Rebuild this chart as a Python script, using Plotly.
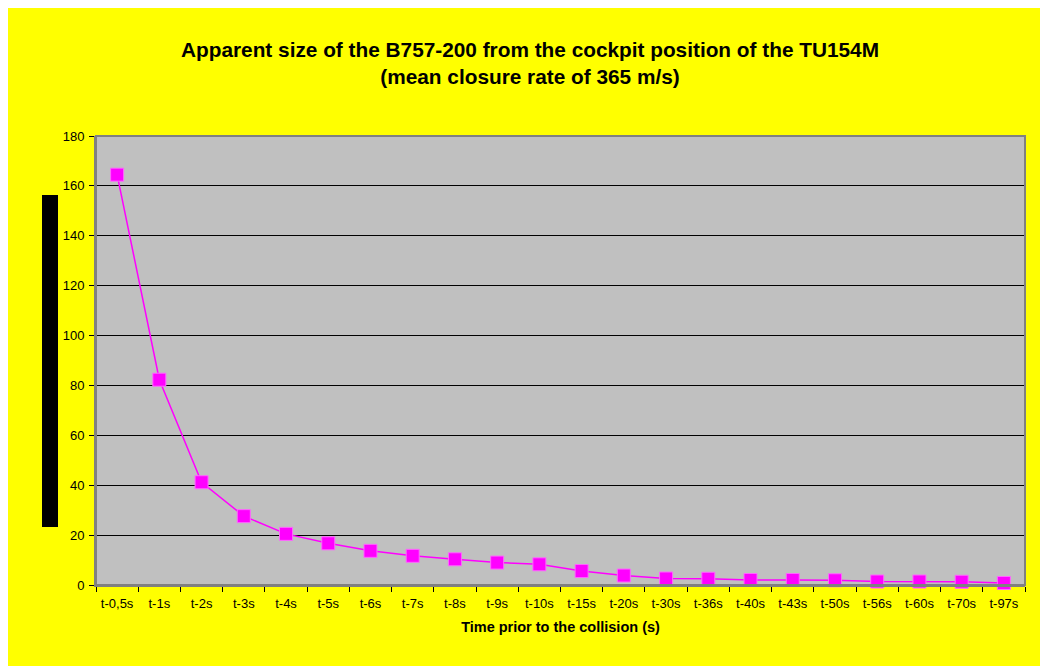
import plotly.graph_objects as go

categories = ["t-0,5s", "t-1s", "t-2s", "t-3s", "t-4s", "t-5s", "t-6s", "t-7s", "t-8s",
              "t-9s", "t-10s", "t-15s", "t-20s", "t-30s", "t-36s", "t-40s", "t-43s",
              "t-50s", "t-56s", "t-60s", "t-70s", "t-97s"]
apparent_size = [164.5, 82.3, 41.2, 27.6, 20.5, 16.7, 13.7, 11.7, 10.3, 9.0, 8.3,
                 5.6, 3.8, 2.6, 2.5, 2.0, 2.0, 1.9, 1.4, 1.4, 1.3, 0.8]
y_ticks = [0, 20, 40, 60, 80, 100, 120, 140, 160, 180]

# page body has an 8px margin; work in screen coordinates and shift
OFF = 8
W, H = 1040, 658
L, R, T, B = 96 - OFF, 1025 - OFF, 136 - OFF, 585 - OFF
pw, ph = R - L, B - T

def px(x):
    return (x - OFF - L) / pw

def py(y):
    return (B - (y - OFF)) / ph

fig = go.Figure()
fig.add_trace(go.Scatter(
    x=categories, y=apparent_size, mode="lines+markers",
    line=dict(color="#FF00FF", width=1.5),
    marker=dict(symbol="square", size=13, color="#FF00FF",
                line=dict(color="#FF66FF", width=1)),
    showlegend=False, cliponaxis=False,
))

font = "Liberation Sans, Arial, sans-serif"
fig.update_layout(
    width=W, height=H,
    margin=dict(l=L, r=W - R, t=T, b=H - B, pad=0),
    paper_bgcolor="#FFFF00",
    plot_bgcolor="#C0C0C0",
    font=dict(family=font, color="black", size=13),
    title=dict(
        text="<b>Apparent size of the B757-200 from the cockpit position of the TU154M</b><br><b>(mean closure rate of 365 m/s)</b>",
        x=(530 - OFF) / W, xanchor="center", y=1 - (57 - OFF) / H, yanchor="top",
        font=dict(size=20.8, family=font, color="black"),
    ),
    xaxis=dict(
        type="category", tickson="boundaries", ticks="outside", ticklen=5,
        tickcolor="black", showgrid=False, showline=True, linecolor="#808080",
        linewidth=2, mirror=False, tickfont=dict(size=13), ticklabelstandoff=5,
        tickangle=0,
        title=dict(text="<b>Time prior to the collision (s)</b>",
                   font=dict(size=14.5), standoff=12),
        range=[-0.5, len(categories) - 0.5],
    ),
    yaxis=dict(
        range=[0, 180], tickvals=y_ticks, ticks="outside", ticklen=5,
        tickcolor="black", showgrid=True, gridcolor="black", gridwidth=1,
        showline=True, linecolor="#808080", linewidth=2, zeroline=False,
        tickfont=dict(size=13), ticklabelstandoff=2,
    ),
    shapes=[
        # plot area border (right / top)
        dict(type="rect", xref="paper", yref="paper", x0=0, x1=1, y0=0, y1=1,
             line=dict(color="#808080", width=2), layer="above"),
        # black bar in place of the y-axis title
        dict(type="rect", xref="paper", yref="paper", x0=px(42), x1=px(58), y0=py(195), y1=py(527),
             fillcolor="black", line=dict(width=0)),
    ],
)

fig.write_html("out.html")
